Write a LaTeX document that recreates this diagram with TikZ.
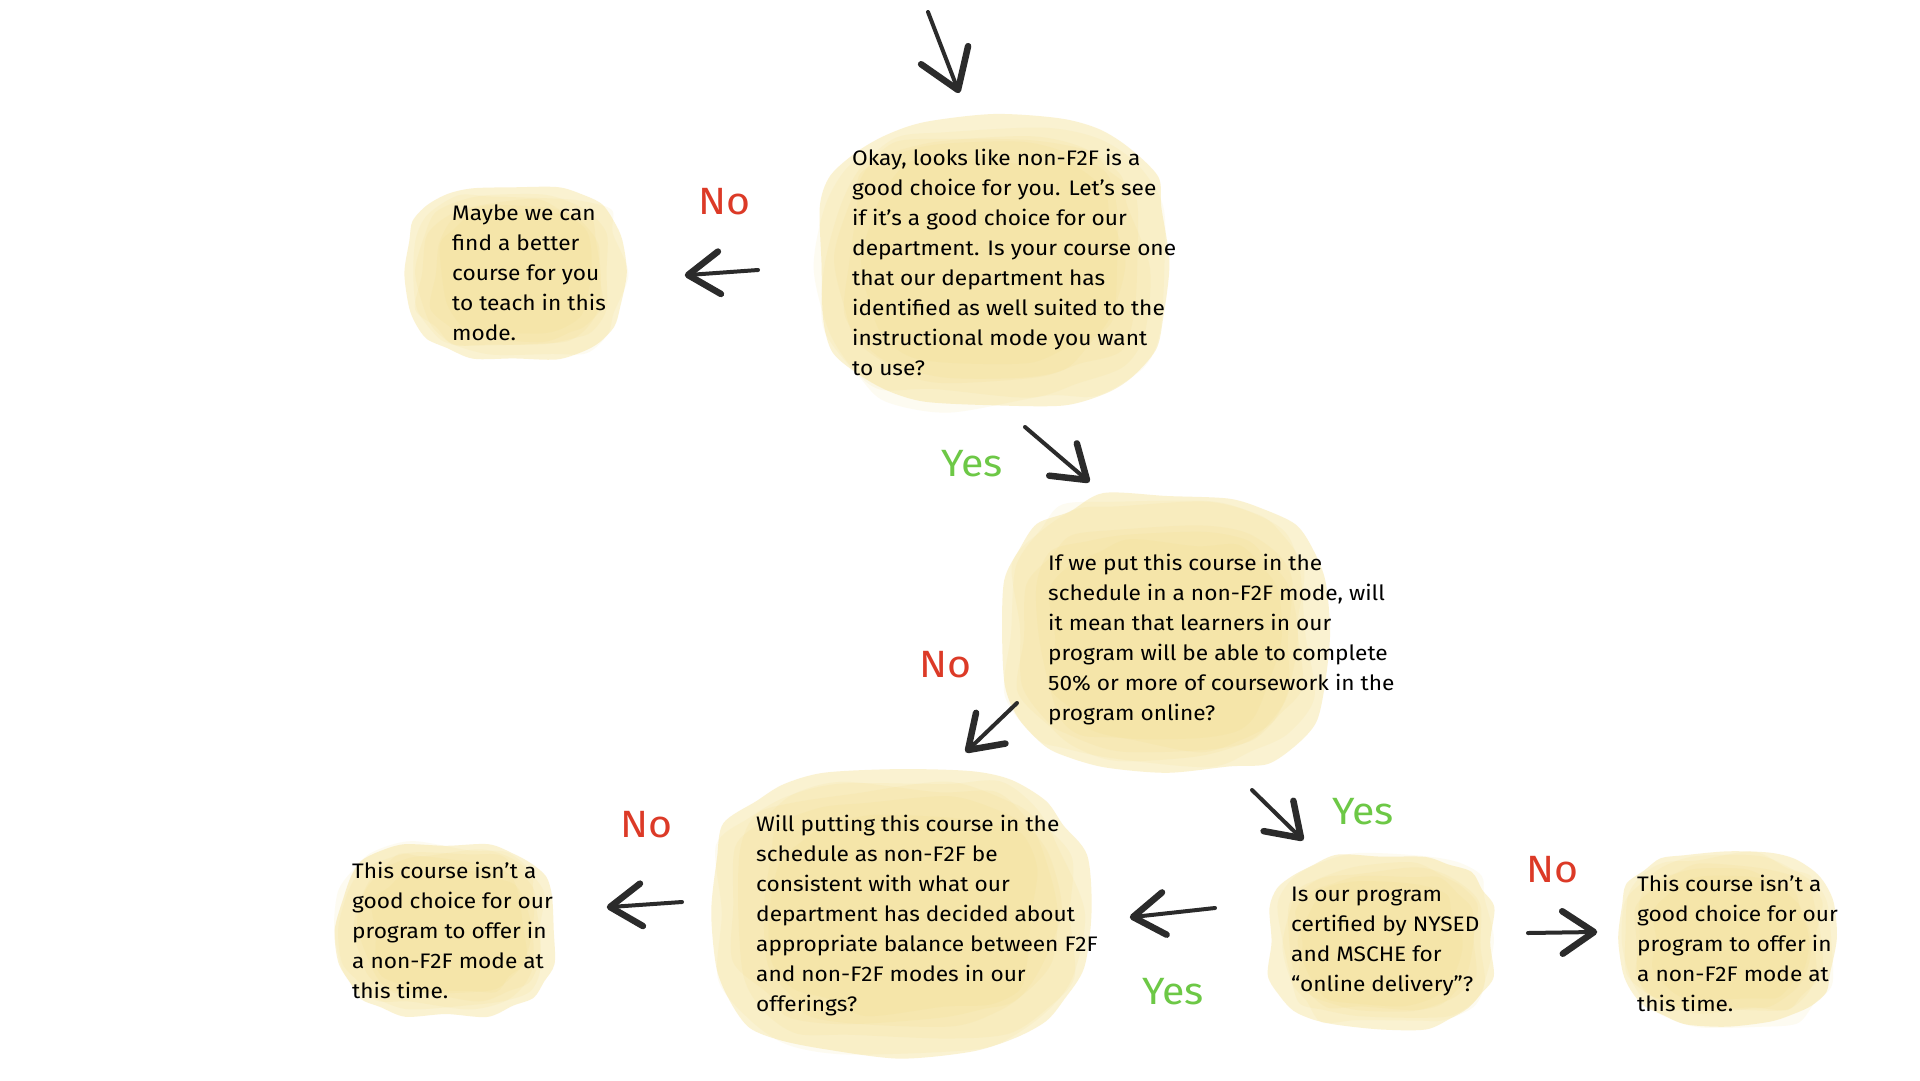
\documentclass[tikz,border=0pt]{standalone}
\usepackage{fontspec}
\setmainfont{Fira Sans}[FakeStretch=1.08]
\usetikzlibrary{calc}

\definecolor{washA}{HTML}{F2D876}
\definecolor{inkdark}{HTML}{2B2B2B}
\definecolor{noRed}{HTML}{DC3A27}
\definecolor{yesGreen}{HTML}{6DC846}

% watercolour wash: seed, centre x, centre y, half width, half height
\newcommand\washblob[5]{%
  \pgfmathsetseed{#1}%
  \fill[washA, opacity=0.33] plot[smooth cycle, domain=0:345, samples=24, variable=\t]
      ({#2 + #4*(0.95+0.07*rnd)*cos(\t)*pow(abs(cos(\t))+0.001,-0.3)},
       {#3 + #5*(0.95+0.07*rnd)*sin(\t)*pow(abs(sin(\t))+0.001,-0.3)});
  \foreach \sc in {0.97, 0.92, 0.86, 0.8, 0.72}{%
    \pgfmathsetmacro\dx{(rnd-0.5)*0.12*#4}%
    \pgfmathsetmacro\dy{(rnd-0.5)*0.12*#5}%
    \fill[washA, opacity=0.1] plot[smooth cycle, domain=0:340, samples=18, variable=\t]
      ({#2 + \dx + \sc*#4*(0.9+0.14*rnd)*cos(\t)*pow(abs(cos(\t))+0.001,-0.3)},
       {#3 + \dy + \sc*#5*(0.9+0.14*rnd)*sin(\t)*pow(abs(sin(\t))+0.001,-0.3)});
  }%
}

\tikzset{
  inkshaft/.style={inkdark, line width=4pt, line cap=round},
  inkbarb/.style={inkdark, line width=6.5pt, line cap=round, line join=round},
  qtext/.style={anchor=north west, align=left, inner sep=0pt,
    font=\fontsize{21}{30}\selectfont, text=black},
  nolabel/.style={font=\fontsize{38}{38}\selectfont, text=noRed, inner sep=0pt},
  yeslabel/.style={font=\fontsize{38}{38}\selectfont, text=yesGreen, inner sep=0pt},
}

% hand-drawn arrow from a start coordinate to a tip coordinate
\newcommand\inkarrow[3][38]{%
  \draw[inkshaft] (#2) -- (#3);
  \draw[inkbarb] ($(#3)!#1pt!34:(#2)$) -- (#3) -- ($(#3)!#1pt!-34:(#2)$);
}

\begin{document}
\begin{tikzpicture}[x=1pt, y=-1pt]
\fill[white] (0,0) rectangle (1920,1080);
\useasboundingbox (0,0) rectangle (1920,1080);

% washes behind the questions and answers
\washblob{11}{994}{263}{180}{147}
\washblob{23}{514}{273}{111}{87}
\washblob{37}{1167}{634}{164}{142}
\washblob{41}{899}{912}{191}{145}
\washblob{53}{446}{930}{110}{88}
\washblob{67}{1381}{942}{114}{88}
\washblob{79}{1727}{938}{110}{88}

% texts
\node[qtext] (q1) at (852,149) {Okay, looks like non-F2F is a\\good choice for you. Let’s see\\if it’s a good choice for our\\department. Is your course one\\that our department has\\identified as well suited to the\\instructional mode you want\\to use?};
\node[qtext] (r1) at (452,205) {Maybe we can\\find a better\\course for you\\to teach in this\\mode.};
\node[qtext] (q2) at (1048,554) {If we put this course in the\\schedule in a non-F2F mode, will\\it mean that learners in our\\program will be able to complete\\50\% or more of coursework in the\\program online?};
\node[qtext] (q3) at (756,815) {Will putting this course in the\\schedule as non-F2F be\\consistent with what our\\department has decided about\\appropriate balance between F2F\\and non-F2F modes in our\\offerings?};
\node[qtext] (r2) at (352,862) {This course isn’t a\\good choice for our\\program to offer in\\a non-F2F mode at\\this time.};
\node[qtext] (q4) at (1291,887) {Is our program\\certified by NYSED\\and MSCHE for\\“online delivery”?};
\node[qtext] (r3) at (1637,875) {This course isn’t a\\good choice for our\\program to offer in\\a non-F2F mode at\\this time.};

% answer labels
\node[nolabel]  (n1) at (724,202) {No};
\node[yeslabel] (y1) at (972,464) {Yes};
\node[nolabel]  (n2) at (945,665) {No};
\node[yeslabel] (y2) at (1363,812) {Yes};
\node[nolabel]  (n3) at (646,825) {No};
\node[nolabel]  (n4) at (1552,870) {No};
\node[yeslabel] (y3) at (1173,992) {Yes};

% arrow end points
\coordinate (a0s) at (928,12);   \coordinate (a0t) at (958,90);
\coordinate (a1s) at (758,270);  \coordinate (a1t) at (688,275);
\coordinate (a2s) at (1025,427); \coordinate (a2t) at (1087,480);
\coordinate (a3s) at (1017,703); \coordinate (a3t) at (968,750);
\coordinate (a4s) at (1252,790); \coordinate (a4t) at (1301,838);
\coordinate (a5s) at (682,902);  \coordinate (a5t) at (610,907);
\coordinate (a6s) at (1215,908); \coordinate (a6t) at (1133,917);
\coordinate (a7s) at (1528,933); \coordinate (a7t) at (1594,932);

\inkarrow[45]{a0s}{a0t}
\inkarrow{a1s}{a1t}
\inkarrow{a2s}{a2t}
\inkarrow{a3s}{a3t}
\inkarrow{a4s}{a4t}
\inkarrow{a5s}{a5t}
\inkarrow{a6s}{a6t}
\inkarrow{a7s}{a7t}
\end{tikzpicture}
\end{document}
